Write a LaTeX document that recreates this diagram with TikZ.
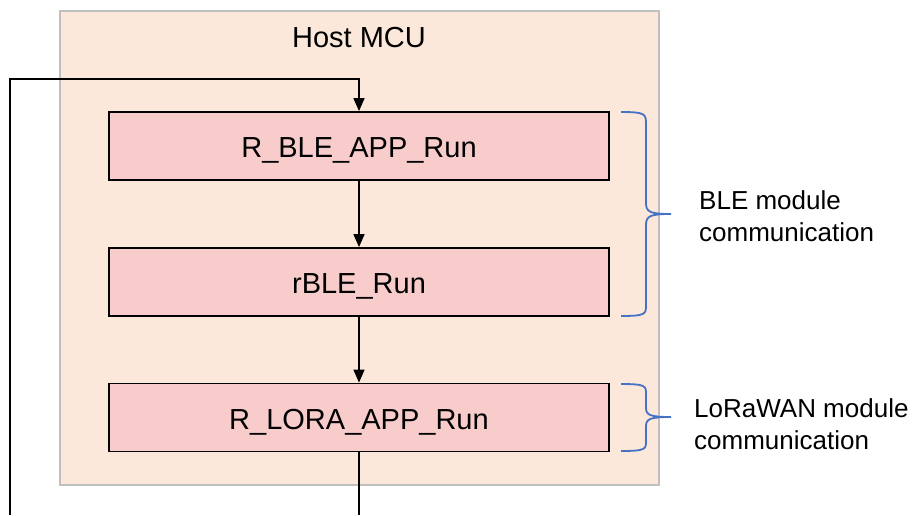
\documentclass[tikz,border=0pt]{standalone}
\usepackage{fontspec}
\setmainfont{Liberation Sans}
\usetikzlibrary{arrows.meta}
\usetikzlibrary{positioning}
\definecolor{hostbg}{RGB}{252,232,218}
\definecolor{hostline}{RGB}{191,191,191}
\definecolor{funcbg}{RGB}{249,204,204}
\definecolor{bracecol}{RGB}{68,114,196}

\begin{document}
\begin{tikzpicture}[x=1pt,y=-1pt,
		func/.style={draw=black,line width=1.8pt,fill=funcbg,minimum width=500pt,minimum height=68pt,text height=23pt,text depth=0pt,font=\fontsize{29}{34}\selectfont},
		flow/.style={line width=1.5pt,-{Triangle[length=13pt,width=11pt]}},
		brc/.style={draw=bracecol,line width=1.8pt},
		note/.style={anchor=west,align=left,inner sep=0pt,font=\fontsize{26}{32}\selectfont}]
		\useasboundingbox (0,0) rectangle (912,515);
		\draw[hostline,line width=2pt,fill=hostbg] (60,11) rectangle (659,485);
		\node (host) at (359,38) {\fontsize{29}{34}\selectfont Host MCU};
		\node[func] (bleapp) at (359,146) {R\_BLE\_APP\_Run};
		\node[func] (rble) at (359,282) {rBLE\_Run};
		\node[func] (lora) at (359,417.5) {R\_LORA\_APP\_Run};
		\coordinate (loopR) at (359,515);
		\coordinate (loopL) at (10,515);
		\coordinate (loopT) at (10,79);
		\draw[flow] (bleapp) -- (rble);
		\draw[flow] (rble) -- (lora);
		\draw[line width=1.5pt] (lora) -- (loopR);
		\draw[flow] (loopL) -- (loopT) -| (bleapp.north);
		% braces
		\draw[brc] (621,112) .. controls (646,112) and (646,114) .. (646,125) -- (646,203)
			.. controls (646,212) and (650,214) .. (671,214)
			.. controls (650,214) and (646,216) .. (646,225) -- (646,305)
			.. controls (646,314) and (646,316) .. (621,316);
		\draw[brc] (621,384) .. controls (646,384) and (646,386) .. (646,394) -- (646,408)
			.. controls (646,415) and (650,417) .. (671,417)
			.. controls (650,417) and (646,419) .. (646,426) -- (646,441)
			.. controls (646,449) and (646,451) .. (621,451);
		\node[note] (blenote) at (699,216) {BLE module\\communication};
		\node[note] (loranote) at (694,424) {LoRaWAN module\\communication};
	\end{tikzpicture}
\end{document}
